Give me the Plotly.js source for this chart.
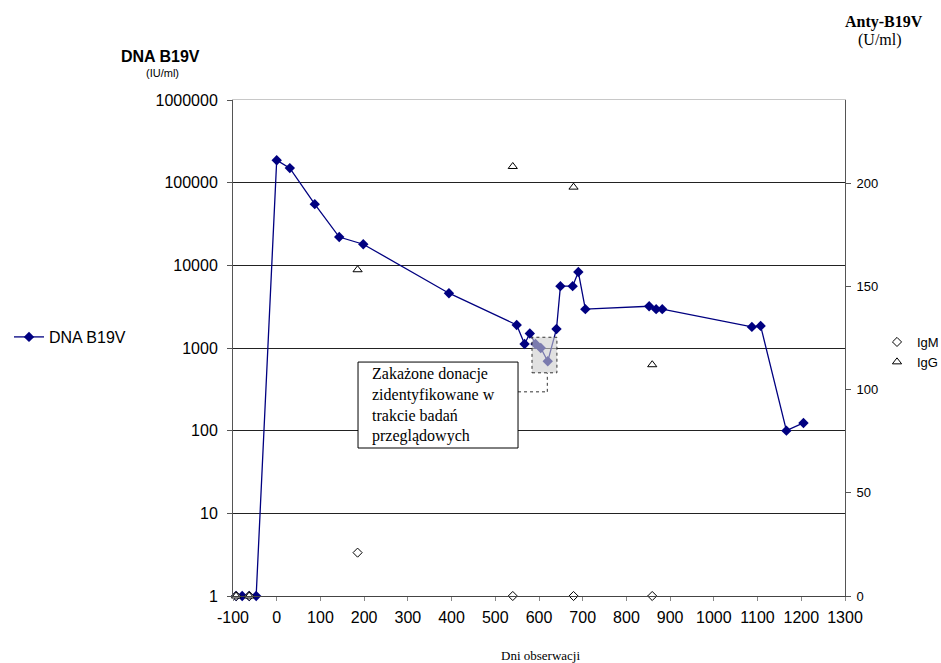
<!DOCTYPE html>
<html><head><meta charset="utf-8">
<script src="https://cdn.plot.ly/plotly-3.0.1.min.js"></script>
<style>body{margin:0;background:#fff}#chart{width:941px;height:663px}</style>
</head><body><div id="chart"></div>
<script>
// DNA B19V (IU/ml), log scale
const dnaDays = [-93,-79,-63,-47,0,30,87,143,198,394,549,567,579,592,604,620,640,649,677,690,706,852,868,882,1087,1107,1166,1205];
const dnaValues = [1,1,1,1,187000,150000,55000,22000,18000,4600,1900,1120,1500,1120,1000,690,1700,5600,5600,8300,2950,3200,2950,2950,1800,1850,100,124];
// Antibodies (U/ml)
const abDays = [-93,-63,185,540,679,859];
const igmValues = [0,0,21,0,0,0];
const iggValues = [0,0,158,208,198,112];
// tick labels
const xTicks = [-100,0,100,200,300,400,500,600,700,800,900,1000,1100,1200,1300];
const yTickVals = [1,10,100,1000,10000,100000,1000000];
const yTickText = ['1','10','100','1000','10000','100000','1000000'];
const y2Ticks = [0,50,100,150,200];

const traces = [
  {x: dnaDays, y: dnaValues, name: 'DNA B19V', type: 'scatter', mode: 'lines+markers',
   line: {color: '#000080', width: 1.3}, marker: {symbol: 'diamond', size: 8, color: '#000080'},
   cliponaxis: false, legend: 'legend'},
  {x: abDays, y: igmValues, name: 'IgM', type: 'scatter', mode: 'markers', yaxis: 'y2',
   marker: {symbol: 'diamond', size: 7, color: 'white', line: {color: '#000', width: 1}},
   cliponaxis: false, legend: 'legend2'},
  {x: abDays, y: iggValues, name: 'IgG', type: 'scatter', mode: 'markers', yaxis: 'y2',
   marker: {symbol: 'triangle-up', size: 8, color: 'white', line: {color: '#000', width: 1}},
   cliponaxis: false, legend: 'legend2'},
  {x: [-100, 1300], y: [1, 1], xaxis: 'x2', mode: 'lines', line: {width: 0}, hoverinfo: 'skip', showlegend: false}
];

const serif = 'Liberation Serif, Times New Roman, serif';
const layout = {
  width: 941, height: 663,
  margin: {l: 233, r: 96, t: 100, b: 67, autoexpand: false},
  paper_bgcolor: '#fff', plot_bgcolor: '#fff',
  font: {family: 'Liberation Sans, Arial, sans-serif', size: 16, color: '#000'},
  xaxis: {range: [-100, 1300], tickvals: xTicks, ticktext: xTicks.map(String), automargin: false,
    showgrid: false, zeroline: false, showline: true, linecolor: '#444', linewidth: 1,
    ticks: 'outside', ticklen: 4, tickcolor: '#888', tickfont: {size: 16}, ticklabelstandoff: 3},
  xaxis2: {range: [-100, 1300], overlaying: 'x', side: 'top', showline: true, linecolor: '#c8c8c8',
    linewidth: 1, showticklabels: false, ticks: '', showgrid: false, zeroline: false, automargin: false},
  yaxis: {type: 'log', range: [0, 6], tickvals: yTickVals, ticktext: yTickText, automargin: false,
    showgrid: true, gridcolor: '#222', gridwidth: 1, zeroline: false,
    showline: true, linecolor: '#555', ticks: 'outside', ticklen: 5, tickcolor: '#555',
    tickfont: {size: 16}, ticklabelstandoff: 6},
  yaxis2: {overlaying: 'y', side: 'right', range: [0, 240.2], tickvals: y2Ticks, automargin: false,
    showgrid: false, zeroline: false, showline: true, linecolor: '#555',
    ticks: 'outside', ticklen: 5, tickcolor: '#555', tickfont: {size: 13}, ticklabelstandoff: 3},
  legend: {x: (9-233)/612, y: (596-337)/496, xanchor: 'left', yanchor: 'middle', bgcolor: 'rgba(0,0,0,0)',
    font: {size: 16}, itemwidth: 30},
  legend2: {x: (877-233)/612, y: (596-352)/496, xanchor: 'left', yanchor: 'middle', bgcolor: 'rgba(0,0,0,0)',
    font: {size: 13}, itemwidth: 30, tracegroupgap: 0},
  shapes: [
    {type: 'rect', xref: 'x', yref: 'y', x0: 584, x1: 641, y0: 501, y1: 1349,
     fillcolor: 'rgba(205,205,205,0.6)', line: {color: '#333', width: 1, dash: 'dot'}, layer: 'above'},
    {type: 'line', xref: 'x', yref: 'y', x0: 552, x1: 619, y0: 295, y1: 295,
     line: {color: '#333', width: 1, dash: 'dot'}, layer: 'above'},
    {type: 'line', xref: 'x', yref: 'y', x0: 619, x1: 619, y0: 295, y1: 501,
     line: {color: '#333', width: 1, dash: 'dot'}, layer: 'above'},
    {type: 'rect', xref: 'x', yref: 'y', x0: 186, x1: 552, y0: 61.7, y1: 676,
     fillcolor: '#fff', line: {color: '#000', width: 1}, layer: 'above'}
  ],
  annotations: [
    {xref: 'x', yref: 'y', x: 216, y: 2.31, xanchor: 'left', yanchor: 'middle',
     text: 'Zakażone donacje<br>zidentyfikowane w<br>trakcie badań<br>przeglądowych',
     align: 'left', showarrow: false, borderpad: 0,
     font: {family: serif, size: 16}},
    {xref: 'paper', yref: 'paper', x: (160-233)/612, y: (596-56)/496, xanchor: 'center', yanchor: 'middle',
     text: '<b>DNA B19V</b>', showarrow: false, font: {size: 16}},
    {xref: 'paper', yref: 'paper', x: (162-233)/612, y: (596-73)/496, xanchor: 'center', yanchor: 'middle',
     text: '(IU/ml)', showarrow: false, font: {size: 11}},
    {xref: 'paper', yref: 'paper', x: (884-233)/612, y: (596-22)/496, xanchor: 'center', yanchor: 'middle',
     text: '<b>Anty-B19V</b>', showarrow: false, font: {family: serif, size: 16}},
    {xref: 'paper', yref: 'paper', x: (880-233)/612, y: (596-40)/496, xanchor: 'center', yanchor: 'middle',
     text: '(U/ml)', showarrow: false, font: {family: serif, size: 16}},
    {xref: 'paper', yref: 'paper', x: (540-233)/612, y: (596-655)/496, xanchor: 'center', yanchor: 'middle',
     text: 'Dni obserwacji', showarrow: false, font: {family: serif, size: 13}}
  ]
};

Plotly.newPlot('chart', traces, layout, {displayModeBar: false, staticPlot: true});
</script></body></html>
